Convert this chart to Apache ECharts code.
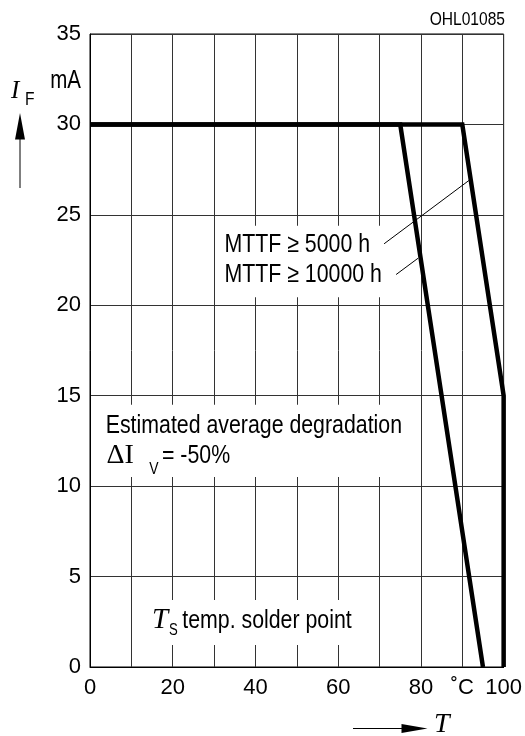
<!DOCTYPE html>
<html><head><meta charset="utf-8">
<script src="https://cdn.jsdelivr.net/npm/echarts@6/dist/echarts.min.js"></script>
<style>html,body{margin:0;padding:0;background:#fff}#c{width:525px;height:736px}</style>
</head><body><div id="c"></div>
<script>
// ---- data ----
const xTickLabels = {0:'0', 20:'20', 40:'40', 60:'60', 80:'80', 90:'\u02DAC', 100:'100'};
const yTickValues = [0, 5, 10, 15, 20, 25, 30, 35];
const curveMTTF5000 = [[0, 30], [90, 30], [100, 15], [100, 0]];
const curveMTTF10000 = [[0, 30], [75, 30], [95, 0]];
const leaderMTTF5000 = [[71.1, 23.4], [91.6, 26.9]];
const leaderMTTF10000 = [[74.0, 21.7], [79.3, 22.6]];
const labelMTTF5000 = 'MTTF \u2265 5000 h';
const labelMTTF10000 = 'MTTF \u2265 10000 h';
const labelDegradation = 'Estimated average degradation';
const labelDelta = '= -50%';
const labelSolder = 'temp. solder point';
const chartId = 'OHL01085';

const SANS = "'Liberation Sans Narrow','Arial Narrow','Liberation Sans',Arial,sans-serif";
const SERIF = "'Liberation Serif','Times New Roman',serif";
const NARROW_SCALE = 0.82;

const chart = echarts.init(document.getElementById('c'), null, {renderer: 'canvas'});
const lineSeries = (data, w) => ({
  type: 'line', data, symbol: 'none', clip: false, animation: false,
  lineStyle: {color: '#000', width: w, join: 'miter', cap: 'butt'}
});
chart.setOption({
  animation: false,
  backgroundColor: '#fff',
  grid: {left: 90, right: 20, top: 34, bottom: 69, show: true, borderColor: '#000', borderWidth: 1, backgroundColor: 'transparent'},
  xAxis: {
    type: 'value', min: 0, max: 100, interval: 10,
    axisLine: {show: true, lineStyle: {color: '#000', width: 1}},
    axisTick: {show: false},
    axisLabel: {color: '#000', fontSize: 22, fontFamily: SANS, margin: 10,
      formatter: v => (xTickLabels[v] !== undefined ? xTickLabels[v] : '')},
    splitLine: {show: true, lineStyle: {color: '#333', width: 1}}
  },
  yAxis: {
    type: 'value', min: 0, max: 35, interval: 5,
    axisLine: {show: true, lineStyle: {color: '#000', width: 1}},
    axisTick: {show: false},
    axisLabel: {color: '#000', fontSize: 22, fontFamily: SANS, margin: 9,
      formatter: v => (yTickValues.indexOf(v) >= 0 ? String(v) : '')},
    splitLine: {show: true, lineStyle: {color: '#333', width: 1}}
  },
  series: [
    lineSeries(curveMTTF5000, 4.5),
    lineSeries(curveMTTF10000, 4.5),
    lineSeries(leaderMTTF5000, 1),
    lineSeries(leaderMTTF10000, 1)
  ]
});

const P = (x, y) => chart.convertToPixel({gridIndex: 0}, [x, y]);
function box(x0, y0, x1, y1) {
  const a = P(x0, y0), b = P(x1, y1);
  return {type: 'rect', z: 1, silent: true,
    shape: {x: Math.min(a[0], b[0]), y: Math.min(a[1], b[1]), width: Math.abs(b[0] - a[0]), height: Math.abs(b[1] - a[1])},
    style: {fill: '#fff'}};
}
function txt(x, y, text, font, inData, align, narrow) {
  const p = inData ? P(x, y) : [x, y];
  return {type: 'text', z: 5, silent: true, x: p[0], y: p[1],
    scaleX: narrow ? NARROW_SCALE : 1,
    style: {text, font, fill: '#000', align: align || 'left', verticalAlign: 'middle'}};
}
function arrow(pts) {
  return {type: 'polygon', z: 5, silent: true, shape: {points: pts}, style: {fill: '#000'}};
}
function seg(x1, y1, x2, y2) {
  return {type: 'line', z: 5, silent: true, shape: {x1, y1, x2, y2}, style: {stroke: '#000', lineWidth: 1}};
}

chart.setOption({graphic: [
  box(0.5, 14.5, 79, 10.5),
  box(31, 24.4, 75.2, 20.45),
  box(12, 3.7, 67.5, 1.22),
  txt(3.8, 13.31, labelDegradation, '26px ' + SANS, true, 'left', true),
  txt(4.0, 11.67, '\u0394I', '28px ' + SERIF, true),
  txt(14.3, 10.95, 'V', '17px ' + SANS, true, 'left', true),
  txt(17.4, 11.67, labelDelta, '26px ' + SANS, true, 'left', true),
  txt(32.5, 23.33, labelMTTF5000, '26px ' + SANS, true, 'left', true),
  txt(32.5, 21.67, labelMTTF10000, '26px ' + SANS, true, 'left', true),
  txt(15.0, 2.6, 'T', 'italic 29px ' + SERIF, true),
  txt(19.1, 2.0, 'S', '16px ' + SANS, true, 'left', true),
  txt(22.3, 2.55, labelSolder, '26px ' + SANS, true, 'left', true),
  // outside-plot labels
  txt(505, 20, chartId, '19px ' + SANS, false, 'right', true),
  txt(81, 81, 'mA', '25px ' + SANS, false, 'right', true),
  txt(11, 91, 'I', 'italic 25px ' + SERIF, false),
  txt(25, 100, 'F', '19px ' + SANS, false, 'left', true),
  seg(20, 188, 20, 135),
  arrow([[20, 113], [15, 139.5], [25, 139.5]]),
  seg(353, 728.5, 405, 728.5),
  arrow([[427.5, 728.5], [401.5, 724], [401.5, 733]]),
  txt(434, 725, 'T', 'italic 28px ' + SERIF, false)
]});
</script></body></html>
